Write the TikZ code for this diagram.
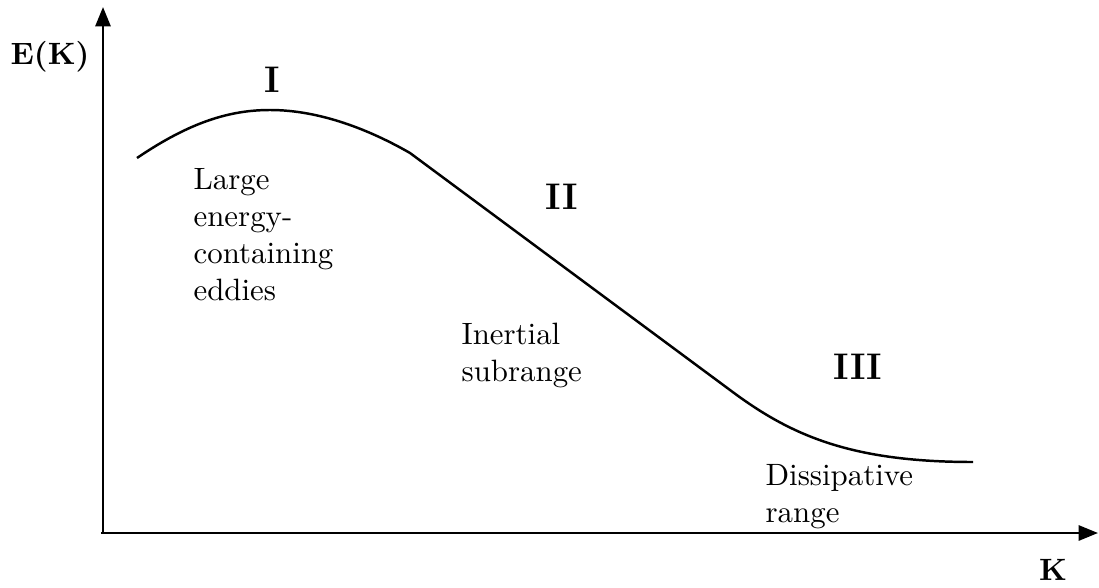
\documentclass[tikz,border=0pt]{standalone}
\usetikzlibrary{arrows.meta}
\begin{document}
\begin{tikzpicture}[x=0.324pt,y=-0.324pt,
  axis/.style={line width=0.85pt,-{Triangle[length=6.3pt,width=4.9pt]}},
  spectrum/.style={line width=0.8pt},
  region/.style={font=\large\bfseries,inner sep=0pt},
  axlabel/.style={font=\bfseries,inner sep=0pt},
  note/.style={align=left,anchor=north west,inner sep=0pt}]
\useasboundingbox (0,0) rectangle (1099,587);
% axes
\coordinate (origin) at (103,537);
\coordinate (ytop) at (103,7);
\coordinate (xend) at (1098,533);
\draw[axis] (103,533) -- (ytop);
\draw[axis] (origin |- xend) ++(-2,0) -- (xend);
\node[axlabel] (ylab) at (50,57) {E(K)};
\node[axlabel] (xlab) at (1053,570) {K};
% spectrum curve
\coordinate (c0) at (137,158);
\coordinate (c1) at (270,110);
\coordinate (c2) at (410,153);
\coordinate (c3) at (730,390);
\coordinate (c4) at (973,462);
\draw[spectrum] (c0) .. controls (190,122) and (230,110) .. (c1)
  .. controls (320,110) and (370,130) .. (c2)
  -- (c3) .. controls (790,435) and (850,462) .. (c4);
% region labels
\node[region] (r1) at (272,80) {I};
\node[region] (r2) at (562,197) {II};
\node[region] (r3) at (858,367) {III};
% descriptions
\node[note] (d1) at (193,168) {Large\\energy-\\containing\\eddies};
\node[note] (d2) at (461,322) {Inertial\\subrange};
\node[note] (d3) at (765,464) {Dissipative\\range};
\end{tikzpicture}
\end{document}
